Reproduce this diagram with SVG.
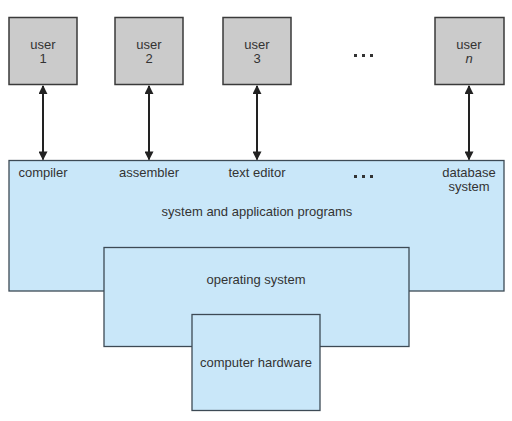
<svg xmlns="http://www.w3.org/2000/svg" width="512" height="421" viewBox="0 0 512 421">
<style>
.user{fill:#cbcbcb;stroke:#3a3a3a;stroke-width:1.5}
.layer{fill:#c9e7f9;stroke:#3d4a55;stroke-width:1.3}
text{font-family:"Liberation Sans",Arial,sans-serif;font-size:13px;fill:#333;text-anchor:middle}
.conn{stroke:#222;stroke-width:2;fill:none;marker-start:url(#ah);marker-end:url(#ah)}
.dot{fill:#333}
</style>
<defs>
<marker id="ah" viewBox="0 0 10 10" refX="9" refY="5" markerWidth="4.5" markerHeight="4.5" orient="auto-start-reverse" markerUnits="strokeWidth">
<path d="M0,0 L10,5 L0,10 z" fill="#222"/>
</marker>
</defs>
<rect width="512" height="421" fill="#fff"/>
<g id="layer-apps">
<rect class="layer" x="9" y="160.5" width="495" height="130.5"/>
<text x="43" y="177">compiler</text>
<text x="149" y="177">assembler</text>
<text x="257" y="177">text editor</text>
<text x="469" y="177">database</text>
<text x="469" y="190.5">system</text>
<text x="257" y="216">system and application programs</text>
<g class="dot"><rect x="354" y="175" width="3" height="3"/><rect x="362" y="175" width="3" height="3"/><rect x="370" y="175" width="3" height="3"/></g>
</g>
<g id="layer-os">
<rect class="layer" x="104" y="247.5" width="305" height="99"/>
<text x="256" y="284">operating system</text>
</g>
<g id="layer-hw">
<rect class="layer" x="192" y="314.5" width="128" height="96"/>
<text x="256" y="367">computer hardware</text>
</g>
<g id="user1"><rect class="user" x="9" y="17.5" width="68" height="67"/><text x="43" y="49">user</text><text x="43" y="63">1</text></g>
<g id="user2"><rect class="user" x="115" y="17.5" width="68" height="67"/><text x="149" y="49">user</text><text x="149" y="63">2</text></g>
<g id="user3"><rect class="user" x="223" y="17.5" width="68" height="67"/><text x="257" y="49">user</text><text x="257" y="63">3</text></g>
<g id="usern"><rect class="user" x="435" y="17.5" width="69" height="67"/><text x="469" y="49">user</text><text x="469" y="63" font-style="italic">n</text></g>
<g id="ellipsis-users" class="dot"><rect x="354" y="54" width="3" height="3"/><rect x="362" y="54" width="3" height="3"/><rect x="370" y="54" width="3" height="3"/></g>
<g id="connectors">
<line class="conn" x1="43" y1="86" x2="43" y2="159.5"/>
<line class="conn" x1="149" y1="86" x2="149" y2="159.5"/>
<line class="conn" x1="257" y1="86" x2="257" y2="159.5"/>
<line class="conn" x1="469" y1="86" x2="469" y2="159.5"/>
</g>
</svg>
